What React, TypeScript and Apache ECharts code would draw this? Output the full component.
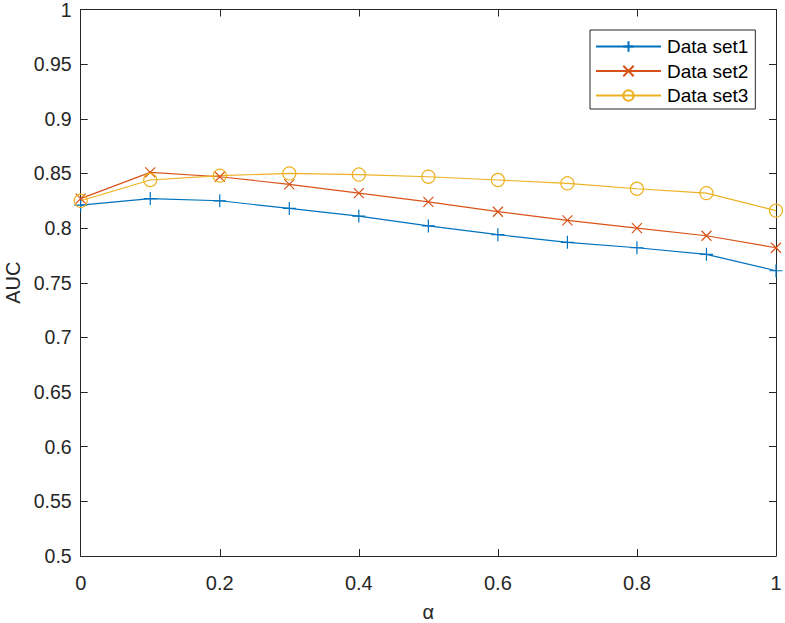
import React, { useEffect, useRef } from "react";
import * as echarts from "echarts";

const alphaValues = [0, 0.1, 0.2, 0.3, 0.4, 0.5, 0.6, 0.7, 0.8, 0.9, 1.0];
const dataSet1 = [0.821, 0.827, 0.825, 0.818, 0.811, 0.802, 0.794, 0.787, 0.782, 0.776, 0.761];
const dataSet2 = [0.827, 0.851, 0.847, 0.840, 0.832, 0.824, 0.815, 0.807, 0.800, 0.793, 0.782];
const dataSet3 = [0.825, 0.844, 0.848, 0.850, 0.849, 0.847, 0.844, 0.841, 0.836, 0.832, 0.816];
const seriesNames = ["Data set1", "Data set2", "Data set3"];
const xTickInterval = 0.2;
const yTickInterval = 0.05;

const COLORS = ["#0072BD", "#D95319", "#EDB120"];
const AXIS_COLOR = "#262626";
const FONT = "'Liberation Sans', Arial, Helvetica, sans-serif";

const PLUS = "path://M0,6L12,6M6,0L6,12";
const CROSS = "path://M0,0L10,10M10,0L0,10";

export default function App() {
  const ref = useRef<HTMLDivElement>(null);

  useEffect(() => {
    if (!ref.current) return;
    const chart = echarts.init(ref.current, undefined, { renderer: "svg" });

    const pairs = (ys: number[]) => alphaValues.map((x, i) => [x, ys[i]]);

    const mkSeries = (name: string, data: number[], color: string, symbol: string, size: number) => ({
      name,
      type: "line",
      data: pairs(data),
      xAxisIndex: 0,
      yAxisIndex: 0,
      symbol,
      symbolSize: size,
      showAllSymbol: true,
      lineStyle: { color, width: 1.2 },
      itemStyle: { color: "rgba(0,0,0,0)", borderColor: color, borderWidth: 1.2 },
      emphasis: { disabled: true },
      z: 3,
    });

    const axisCommon = {
      axisLine: { show: true, onZero: false, lineStyle: { color: AXIS_COLOR, width: 1 } },
      axisTick: { show: true, inside: true, length: 7, lineStyle: { color: AXIS_COLOR, width: 1 } },
      splitLine: { show: false },
    };

    chart.setOption({
      animation: false,
      backgroundColor: "#ffffff",
      textStyle: { fontFamily: FONT },
      grid: { left: 80.7, right: 9, top: 9.5, bottom: 67, containLabel: false, outerBoundsMode: "none" },
      legend: {
        show: true,
        orient: "vertical",
        left: 590,
        top: 30,
        padding: [7, 7, 4, 5],
        itemWidth: 65,
        itemHeight: 13,
        itemGap: 5.5,
        borderColor: AXIS_COLOR,
        borderWidth: 1,
        backgroundColor: "#ffffff",
        data: seriesNames,
        textStyle: { fontFamily: FONT, fontSize: 19, color: "#000000", lineHeight: 19, padding: [0, 0, 0, 1] },
      },
      xAxis: [
        {
          type: "value",
          min: 0,
          max: 1,
          interval: xTickInterval,
          position: "bottom",
          name: "α",
          nameLocation: "middle",
          nameGap: 49,
          nameTextStyle: { fontFamily: FONT, fontSize: 20, lineHeight: 14, color: AXIS_COLOR },
          axisLabel: {
            show: true,
            margin: 17,
            fontFamily: FONT,
            fontSize: 20,
            color: AXIS_COLOR,
            formatter: (v: number) => String(Math.round(v * 10) / 10),
          },
          ...axisCommon,
        },
        {
          type: "value",
          min: 0,
          max: 1,
          interval: xTickInterval,
          position: "top",
          axisLabel: { show: false },
          ...axisCommon,
        },
      ],
      yAxis: [
        {
          type: "value",
          min: 0.5,
          max: 1,
          interval: yTickInterval,
          position: "left",
          name: "AUC",
          nameLocation: "middle",
          nameGap: 53,
          nameRotate: 90,
          nameTextStyle: { fontFamily: FONT, fontSize: 20, color: AXIS_COLOR },
          axisLabel: {
            show: true,
            margin: 9,
            fontFamily: FONT,
            fontSize: 19.5,
            lineHeight: 14,
            color: AXIS_COLOR,
            formatter: (v: number) => String(Math.round(v * 100) / 100),
          },
          ...axisCommon,
        },
        {
          type: "value",
          min: 0.5,
          max: 1,
          interval: yTickInterval,
          position: "right",
          axisLabel: { show: false },
          ...axisCommon,
        },
      ],
      series: [
        mkSeries(seriesNames[0], dataSet1, COLORS[0], PLUS, 13),
        mkSeries(seriesNames[1], dataSet2, COLORS[1], CROSS, 10),
        mkSeries(seriesNames[2], dataSet3, COLORS[2], "circle", 13),
      ],
    });

    return () => chart.dispose();
  }, []);

  return (
    <div
      ref={ref}
      style={{ position: "fixed", left: 0, top: 0, width: 785, height: 623, background: "#fff" }}
    />
  );
}
